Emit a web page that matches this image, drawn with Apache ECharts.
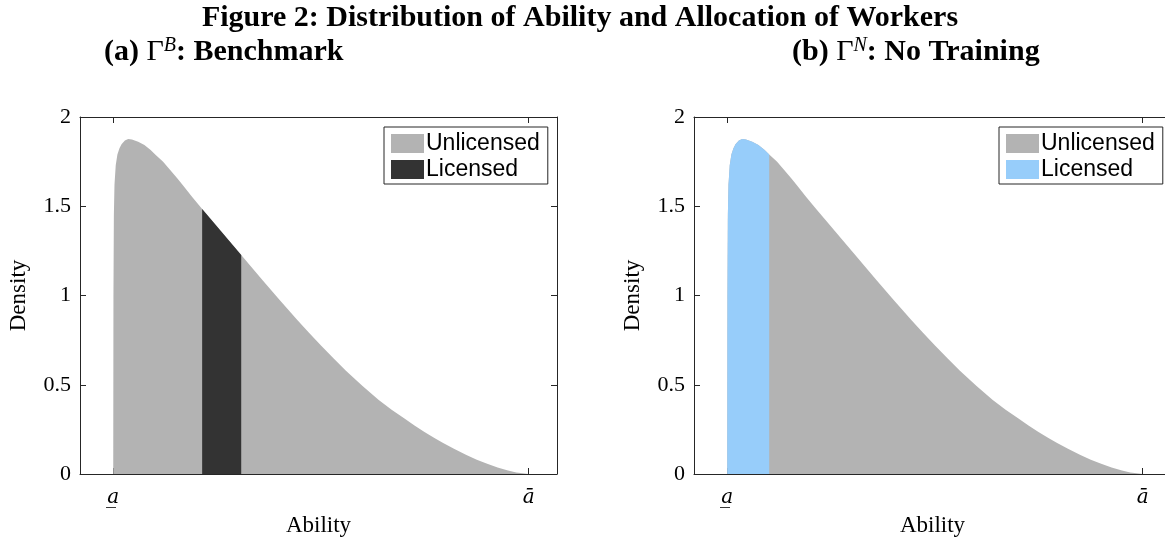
<!DOCTYPE html>
<html>
<head>
<meta charset="utf-8">
<script src="https://cdn.jsdelivr.net/npm/echarts@6/dist/echarts.min.js"></script>
<style>
  html, body { margin: 0; padding: 0; background: #ffffff; }
  #chart { width: 1165px; height: 539px; }
</style>
</head>
<body>
<div id="chart"></div>
<script>
// Ability, scaled so that the lower bound a_ is 0 and the upper bound ā is 1
const ability = [0, 0.0005, 0.0015, 0.003, 0.006, 0.01, 0.015, 0.02, 0.028, 0.036, 0.045,
  0.06, 0.075, 0.09, 0.101, 0.12, 0.137, 0.155, 0.17, 0.19, 0.214, 0.235, 0.26, 0.285, 0.308,
  0.335, 0.36, 0.40, 0.443, 0.47, 0.50, 0.53, 0.56, 0.60, 0.639, 0.67, 0.70, 0.725, 0.75,
  0.775, 0.794, 0.82, 0.85, 0.875, 0.90, 0.925, 0.95, 0.97, 1.0];
// Density of ability at each grid point
const density = [0, 1.0, 1.45, 1.62, 1.73, 1.79, 1.825, 1.848, 1.868, 1.877, 1.874,
  1.862, 1.843, 1.815, 1.79, 1.75, 1.703, 1.654, 1.611, 1.552, 1.485, 1.427, 1.358, 1.29, 1.227,
  1.153, 1.084, 0.976, 0.863, 0.794, 0.72, 0.648, 0.579, 0.493, 0.415, 0.36, 0.312, 0.272, 0.234,
  0.199, 0.174, 0.141, 0.106, 0.08, 0.057, 0.036, 0.019, 0.009, 0];
// Range of ability that is licensed in each economy
const licensedBenchmark = [0.214, 0.308];
const licensedNoTraining = [0, 0.101];
// Tick positions and labels
const abilityTicks = [0, 1];
const abilityTickLabels = ['a\u0332', '\u0101'];
const densityTicks = [0, 0.5, 1, 1.5, 2];

const GRAY = '#b3b3b3';
const DARK = '#333333';
const BLUE = '#97cdfa';
const AXIS = '#262626';
const SERIF = '"Liberation Serif", "DejaVu Serif", serif';
const SANS = '"Liberation Sans", Arial, sans-serif';

const curve = ability.map((a, i) => [a, density[i]]);
const slice = (r) => curve.filter(p => p[0] >= r[0] && p[0] <= r[1]);

function xAxes(gridIndex) {
  const common = {
    gridIndex, type: 'value', min: -0.08, max: 1.068,
    splitLine: { show: false },
    axisLine: { show: true, onZero: false, lineStyle: { color: AXIS, width: 1 } },
    axisTick: { show: true, inside: true, length: 6, customValues: abilityTicks,
      lineStyle: { color: AXIS, width: 1 } }
  };
  return [
    Object.assign({}, common, {
      position: 'bottom',
      name: 'Ability', nameLocation: 'middle', nameGap: 40,
      nameTextStyle: { fontFamily: SERIF, fontSize: 23, color: '#000' },
      axisLabel: {
        show: true, margin: 14, customValues: abilityTicks,
        formatter: (v) => abilityTickLabels[abilityTicks.indexOf(v)],
        fontFamily: '"DejaVu Serif", serif', fontStyle: 'italic', fontSize: 20, color: '#000'
      }
    }),
    Object.assign({}, common, { position: 'top', axisLabel: { show: false } })
  ];
}

function yAxes(gridIndex) {
  const common = {
    gridIndex, type: 'value', min: densityTicks[0], max: densityTicks[densityTicks.length - 1],
    interval: densityTicks[1] - densityTicks[0],
    splitLine: { show: false },
    axisLine: { show: true, onZero: false, lineStyle: { color: AXIS, width: 1 } },
    axisTick: { show: true, inside: true, length: 6, lineStyle: { color: AXIS, width: 1 } }
  };
  return [
    Object.assign({}, common, {
      position: 'left',
      name: 'Density', nameLocation: 'middle', nameGap: 50,
      nameTextStyle: { fontFamily: SERIF, fontSize: 23, color: '#000' },
      axisLabel: { show: true, margin: 9, fontFamily: SERIF, fontSize: 22, color: '#000' }
    }),
    Object.assign({}, common, { position: 'right', axisLabel: { show: false } })
  ];
}

function areaSeries(name, data, color, xi, yi) {
  return {
    name, type: 'line', data, xAxisIndex: xi, yAxisIndex: yi,
    showSymbol: false, smooth: false, silent: true,
    lineStyle: { width: 0, color }, itemStyle: { color },
    areaStyle: { color, opacity: 1 }
  };
}

function legendAt(left, licensedColor) {
  return {
    orient: 'vertical', left, top: 127,
    data: [
      { name: 'Unlicensed', icon: 'rect', itemStyle: { color: GRAY } },
      { name: 'Licensed', icon: 'rect', itemStyle: { color: licensedColor } }
    ],
    itemWidth: 33, itemHeight: 19, itemGap: 3,
    padding: [5, 8, 3, 7],
    borderColor: AXIS, borderWidth: 1, borderRadius: 0, backgroundColor: '#fff',
    selectedMode: false,
    textStyle: { fontFamily: SANS, fontSize: 23, color: '#000', lineHeight: 21, padding: [0, 0, 0, -3] }
  };
}

const titleRich = {
  n: { fontFamily: SERIF, fontWeight: 'bold', fontSize: 30, color: '#000', lineHeight: 32 },
  g: { fontFamily: SERIF, fontWeight: 'normal', fontSize: 30, color: '#000', lineHeight: 32 },
  s: { fontFamily: SERIF, fontStyle: 'italic', fontSize: 20, color: '#000', lineHeight: 14, verticalAlign: 'top' }
};

const chart = echarts.init(document.getElementById('chart'), null, { renderer: 'canvas' });
chart.setOption({
  animation: false,
  backgroundColor: '#ffffff',
  grid: [
    { left: 80, top: 117, width: 477, height: 357, containLabel: false, outerBoundsMode: 'none' },
    { left: 694, top: 117, width: 477, height: 357, containLabel: false, outerBoundsMode: 'none' }
  ],
  xAxis: [...xAxes(0), ...xAxes(1)],
  yAxis: [...yAxes(0), ...yAxes(1)],
  legend: [legendAt(384, DARK), legendAt(999, BLUE)],
  series: [
    areaSeries('Unlicensed', curve, GRAY, 0, 0),
    areaSeries('Licensed', slice(licensedBenchmark), DARK, 0, 0),
    areaSeries('Unlicensed', curve, GRAY, 2, 2),
    areaSeries('Licensed', slice(licensedNoTraining), BLUE, 2, 2)
  ],
  graphic: [
    { type: 'text', x: 580, y: 18, silent: true,
      style: { text: 'Figure 2: Distribution of Ability and Allocation of Workers',
        font: 'bold 30px ' + SERIF, fill: '#000', align: 'center', verticalAlign: 'middle' } },
    { type: 'text', x: 104, y: 52, silent: true,
      style: { text: '{n|(a) }{g|Γ}{s|B}{n|: Benchmark}', rich: titleRich,
        align: 'left', verticalAlign: 'middle' } },
    { type: 'text', x: 792, y: 52, silent: true,
      style: { text: '{n|(b) }{g|Γ}{s|N}{n|: No Training}', rich: titleRich,
        align: 'left', verticalAlign: 'middle' } }
  ]
});
</script>
</body>
</html>
